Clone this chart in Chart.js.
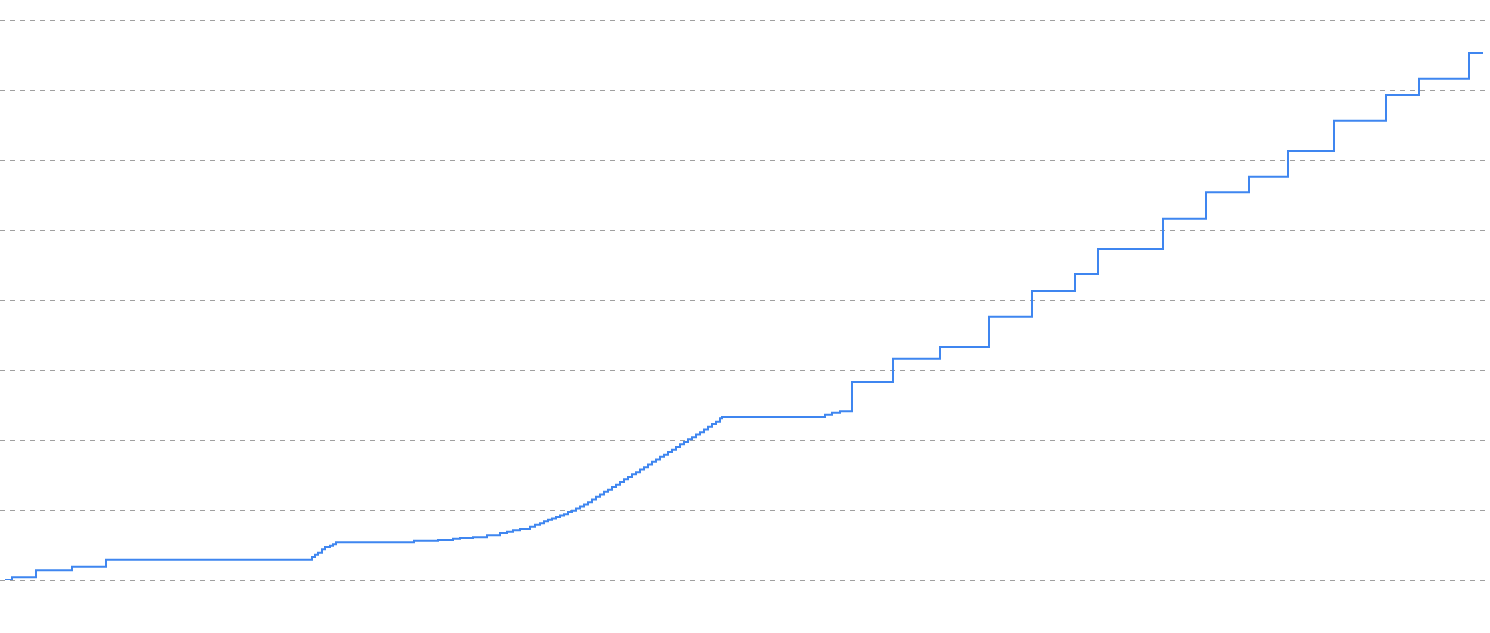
<!DOCTYPE html>
<html>
<head>
<meta charset="utf-8">
<title>Grafico</title>
<script src="https://cdn.jsdelivr.net/npm/chart.js@4.4.0/dist/chart.umd.min.js"></script>
<style>
  body { margin: 0; background: #fff; }
</style>
</head>
<body>
<canvas id="escalera" width="1490" height="633"></canvas>
<script>
// dias (eje x) y total acumulado (eje y)
const dias = [
  0, 1.4, 6.2, 13.4, 20.2, 61.4, 62, 62.6, 63.4, 64, 65, 65.6, 66.2,
  81.8, 86.6, 89.6, 91, 93.6, 96.4, 99, 100.4, 101.6, 103, 105, 106, 107,
  107.8, 108.6, 109.4, 110.2, 111, 111.8, 112.6, 113.4, 114.2, 115, 115.8,
  116.6, 117.4, 118.2, 119, 119.8, 120.6, 121.4, 122.2, 123, 123.8, 124.6,
  125.4, 126.2, 127, 127.8, 128.6, 129.4, 130.2, 131, 131.8, 132.6, 133.4,
  134.2, 135, 135.8, 136.6, 137.4, 138.2, 139, 139.8, 140.6, 141.4, 142.2,
  143, 143.4, 164, 165.4, 167, 169.4, 177.6, 187, 196.8,
  205.4, 214, 218.6, 231.6, 240.2, 248.8, 256.6, 265.8, 276.2, 282.8, 292.8, 295.6
];
const total = [
  0, 4, 14, 19, 29, 33, 36, 39, 44, 47, 49, 51, 54,
  56, 57, 59, 60, 61, 64, 67, 69, 71, 73, 76, 79, 81,
  84, 86, 88, 90, 92, 94, 97, 99, 102, 105, 108,
  111, 115, 119, 122, 126, 129, 133, 136, 140, 144, 147,
  151, 154, 158, 161, 165, 169, 172, 176, 179, 183, 186,
  190, 194, 197, 201, 204, 208, 211, 215, 219, 223, 226,
  231, 233, 236, 239, 241, 283, 316, 333, 376,
  413, 437, 473, 516, 554, 576, 613, 656, 693, 716, 753, 753
];
const ticksY = [0, 100, 200, 300, 400, 500, 600, 700, 800];

escalera();

function escalera() {
  const ctx = document.getElementById("escalera");
  const puntos = dias.map(function (d, i) {
    return { x: d, y: total[i] };
  });

  new Chart(ctx, {
    type: "line",
    data: {
      datasets: [
        {
          label: "Total",
          data: puntos,
          stepped: true,
          borderColor: "#3f86f0",
          borderWidth: 2,
          pointRadius: 0,
          fill: false,
        },
      ],
    },
    options: {
      responsive: false,
      animation: false,
      layout: {
        padding: { top: 20, bottom: 53, left: 0, right: 4 },
      },
      plugins: {
        legend: { display: false },
        tooltip: { enabled: false },
      },
      scales: {
        x: {
          type: "linear",
          display: false,
          min: -1,
          max: 296.2,
        },
        y: {
          min: ticksY[0],
          max: ticksY[ticksY.length - 1],
          afterBuildTicks: function (axis) {
            axis.ticks = ticksY.map(function (v) {
              return { value: v };
            });
          },
          ticks: { display: false },
          grid: {
            drawTicks: false,
            color: "#a0a0a0",
            lineWidth: 1,
          },
          border: { display: false, dash: [5, 5] },
        },
      },
    },
  });
}
</script>
</body>
</html>
